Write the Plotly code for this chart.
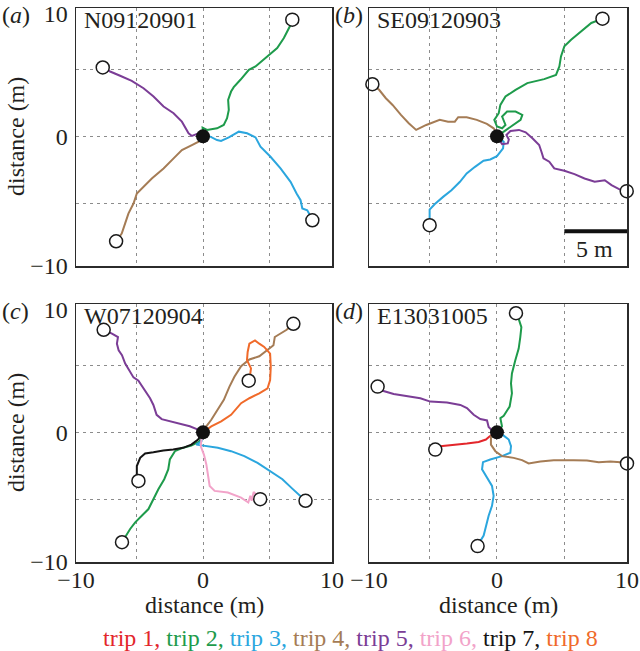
import plotly.graph_objects as go

# ---------------- data (metres) ----------------
TRIP_COLORS = {1: "#e3262b", 2: "#1e9b4b", 3: "#2ba6de", 4: "#a57c55",
               5: "#7b3d96", 6: "#f2a3c9", 7: "#141414", 8: "#f06a2a"}

PANEL_LETTERS = ["a", "b", "c", "d"]
PANEL_NAMES = ["N09120901", "SE09120903", "W07120904", "E13031005"]
TICK_TEXT = ["\u221210", "0", "10"]
GRID_VALS = [-5, 0, 5]
LEGEND_LABELS = ["trip 1", "trip 2", "trip 3", "trip 4", "trip 5", "trip 6", "trip 7", "trip 8"]

# panel (a)
A_T2_X = [0, -0.03, 0.3, 1.05, 1.55, 1.8, 1.93, 1.88, 2.1, 2.3, 2.8, 3.43, 3.93, 4.8, 5.55, 6.05, 6.5, 6.68]
A_T2_Y = [0, 0.65, 0.48, 0.6, 0.85, 1.35, 1.98, 2.73, 3.35, 3.68, 4.23, 4.98, 5.23, 5.98, 6.6, 7.35, 8.23, 8.73]
A_T3_X = [0, 0.55, 1.05, 1.35, 1.93, 2.68, 3.3, 3.93, 4.3, 5.05, 5.8, 6.55, 7.0, 7.3, 7.43, 7.8, 8.0, 8.18]
A_T3_Y = [0, -0.03, -0.28, -0.35, -0.08, 0.35, 0.23, -0.08, -0.78, -1.53, -2.4, -3.4, -4.28, -4.78, -5.4, -5.53, -5.9, -6.28]
A_T4_X = [0, -0.33, -0.83, -1.58, -2.2, -2.95, -3.83, -4.45, -4.95, -5.2, -5.58, -5.83, -6.08, -6.5]
A_T4_Y = [0, -0.4, -0.65, -1.03, -1.65, -2.4, -3.15, -3.78, -4.28, -5.03, -5.78, -6.53, -7.28, -7.85]
A_T5_X = [0, -0.33, -0.83, -1.08, -1.58, -2.2, -2.95, -3.7, -4.45, -5.33, -6.2, -6.95, -7.5]
A_T5_Y = [0, 0.23, 0.03, 0.23, 1.1, 1.73, 2.23, 2.98, 3.6, 4.15, 4.53, 4.85, 5.15]

# panel (b)
B_T2_X = [0, 0.5, 1.13, 1.75, 1.88, 1.38, 0.75, 0.38, 0.63, 0.38, 0, -0.2, 0.13, 0.25, 0.63, 1.38, 2.25, 3.5, 4.38, 4.63, 4.75, 5.0, 5.5, 6.25, 7.0, 7.83]
B_T2_Y = [0, 0.35, 0.73, 1.23, 1.6, 1.85, 1.85, 1.48, 0.85, 0.6, 0.73, 1.23, 1.73, 2.35, 2.98, 3.48, 3.98, 4.28, 4.6, 5.23, 5.98, 6.73, 7.23, 7.85, 8.48, 8.8]
B_T3_X = [0, 0.5, 0.45, 0, -0.5, -1.0, -1.63, -2.25, -2.75, -3.38, -4.0, -4.63, -5.0, -5.0]
B_T3_Y = [0, -0.4, -0.9, -1.48, -1.73, -1.83, -2.28, -2.78, -3.4, -4.03, -4.53, -5.08, -5.48, -6.65]
B_T4_X = [0, -0.05, -0.25, -0.75, -1.5, -2.25, -2.88, -3.13, -3.63, -4.25, -5.25, -6.0, -6.55, -7.13, -7.75, -8.25, -8.75, -9.25]
B_T4_Y = [0, 0.28, 0.6, 0.93, 1.23, 1.43, 1.43, 1.1, 1.1, 1.23, 0.85, 0.48, 0.98, 1.6, 2.35, 2.85, 3.48, 3.9]
B_T5_X = [0, 0.38, 0.8, 0.88, 0.7, 1.0, 1.63, 2.13, 2.63, 3.13, 3.3, 3.45, 3.88, 4.25, 5.0, 5.75, 6.5, 7.25, 8.0, 8.5, 9.13, 9.63]
B_T5_Y = [0, -0.58, -0.53, -0.23, 0.1, 0.4, 0.48, 0.3, -0.15, -0.65, -1.15, -1.65, -1.9, -2.4, -2.58, -2.83, -3.15, -3.4, -3.28, -3.65, -3.98, -4.1]

# panel (c)
C_T2_X = [0, -0.25, -0.87, -1.61, -2.1, -2.48, -2.6, -2.9, -3.34, -3.71, -4.08, -4.58, -5.07, -5.45, -6.06]
C_T2_Y = [0, -0.67, -0.99, -1.19, -1.41, -2.03, -2.77, -3.51, -4.26, -5.0, -5.74, -6.24, -6.73, -7.23, -8.22]
C_T3_X = [0, -0.12, -0.5, 0.25, 1.11, 2.1, 3.09, 4.08, 5.07, 5.94, 6.68, 7.43, 7.67]
C_T3_Y = [0, -0.67, -0.92, -1.04, -1.16, -1.41, -1.78, -2.28, -2.9, -3.51, -4.21, -4.88, -5.12]
C_T4_X = [0, 0.25, 0.62, 1.11, 1.56, 1.98, 2.35, 2.85, 3.47, 4.21, 4.83, 5.27, 5.37, 5.82, 6.26, 6.76]
C_T4_Y = [0, 0.45, 0.94, 1.68, 2.43, 3.42, 4.16, 4.95, 5.45, 5.69, 6.14, 6.51, 7.13, 7.43, 7.67, 8.12]
C_T5_X = [0, -0.37, -0.99, -1.73, -2.48, -3.09, -3.47, -3.71, -3.96, -4.28, -4.58, -4.83, -5.2, -5.52, -5.82, -6.06, -6.31, -6.44, -6.36, -6.81, -7.43]
C_T5_Y = [0, 0.2, 0.45, 0.64, 0.82, 0.99, 1.31, 2.05, 2.55, 3.04, 3.42, 3.86, 4.11, 4.65, 5.15, 5.77, 6.14, 6.63, 7.13, 7.38, 7.67]
C_T6_X = [0, -0.12, -0.17, 0.07, 0.25, 0.37, 0.5, 0.87, 1.86, 2.85, 3.39, 3.54, 3.64, 3.79, 4.28]
C_T6_Y = [0, -0.54, -1.04, -1.66, -2.4, -3.27, -4.01, -4.38, -4.5, -4.88, -5.25, -4.75, -5.12, -4.46, -5.0]
C_T7_X = [0, -0.37, -0.87, -1.49, -2.23, -2.97, -3.71, -4.33, -4.7, -4.95, -4.95, -4.83]
C_T7_Y = [0, -0.54, -0.92, -1.16, -1.29, -1.36, -1.49, -1.58, -1.91, -2.52, -3.14, -3.64]
C_T8_X = [0, 0.62, 1.36, 2.1, 2.85, 3.47, 4.21, 4.83, 5.02, 5.07, 5.02, 4.58, 4.21, 3.89, 3.47, 3.34, 3.29, 3.59, 3.54, 3.42]
C_T8_Y = [0, 0.45, 0.82, 1.31, 2.18, 2.55, 2.92, 3.29, 3.91, 4.9, 5.89, 6.39, 6.63, 6.88, 6.63, 6.01, 5.4, 4.78, 4.41, 3.86]

# panel (d)
D_T1_X = [0, -0.54, -0.82, -1.36, -2.23, -3.22, -4.21, -4.58]
D_T1_Y = [0, -0.3, -0.54, -0.72, -0.84, -0.92, -1.04, -1.29]
D_T2_X = [0, 0.37, 0.25, 0.5, 0.94, 1.11, 1.04, 1.11, 1.36, 1.61, 1.73, 1.81, 1.61, 1.41]
D_T2_Y = [0, 0.45, 1.06, 1.24, 1.93, 2.92, 3.66, 4.41, 5.4, 6.26, 7.13, 7.87, 8.49, 8.91]
D_T3_X = [0, 0.5, 0.87, 1.04, 0.99, 0.37, -0.5, -1.04, -1.11, -0.74, -0.37, -0.25, -0.37, -0.62, -0.82, -0.99, -1.29, -1.44]
D_T3_Y = [0, -0.25, -0.54, -1.04, -1.53, -1.78, -2.03, -2.23, -2.77, -3.39, -4.01, -4.75, -5.5, -6.24, -6.98, -7.72, -8.22, -8.51]
D_T4_X = [0, -0.45, -0.45, -0.12, 0.37, 1.24, 1.86, 2.35, 3.22, 4.21, 5.69, 6.68, 7.55, 8.42, 9.16, 9.65]
D_T4_Y = [0, -0.3, -0.92, -1.41, -1.78, -1.91, -2.08, -2.33, -2.18, -2.08, -2.08, -2.1, -2.23, -2.18, -2.23, -2.33]
D_T5_X = [0, -0.3, -0.62, -0.74, -1.24, -1.73, -2.23, -2.72, -3.71, -4.95, -5.69, -6.68, -7.67, -8.42, -8.86]
D_T5_Y = [0, 0.07, 0.4, 0.89, 0.99, 1.31, 1.81, 2.05, 2.23, 2.3, 2.55, 2.72, 2.87, 3.09, 3.42]

PANEL_TRIPS = [
    [(2, A_T2_X, A_T2_Y), (3, A_T3_X, A_T3_Y), (4, A_T4_X, A_T4_Y), (5, A_T5_X, A_T5_Y)],
    [(2, B_T2_X, B_T2_Y), (3, B_T3_X, B_T3_Y), (4, B_T4_X, B_T4_Y), (5, B_T5_X, B_T5_Y)],
    [(2, C_T2_X, C_T2_Y), (3, C_T3_X, C_T3_Y), (4, C_T4_X, C_T4_Y), (5, C_T5_X, C_T5_Y),
     (6, C_T6_X, C_T6_Y), (7, C_T7_X, C_T7_Y), (8, C_T8_X, C_T8_Y)],
    [(1, D_T1_X, D_T1_Y), (2, D_T2_X, D_T2_Y), (3, D_T3_X, D_T3_Y), (4, D_T4_X, D_T4_Y), (5, D_T5_X, D_T5_Y)],
]

NEST_X = [0]
NEST_Y = [0]
SCALE_X = [5, 10]
SCALE_Y = [-7.1, -7.1]
SCALE_LABEL = "5 m"

# ---------------- layout geometry ----------------
W, H = 640, 651
X_RANGE = [-9.5, 9.65]
Y_RANGE = [-9.7, 9.6]
COL_PX = [(76, 332), (369, 627)]
ROW_PX = [(8, 266), (304, 562)]
FONT = "Liberation Serif, Times New Roman, serif"
TXT = "#231f20"

fig = go.Figure()

for i in range(4):
    r, c = divmod(i, 2)
    sfx = "" if i == 0 else str(i + 1)
    xa, ya = "x" + sfx, "y" + sfx
    for trip, xs, ys in PANEL_TRIPS[i]:
        fig.add_trace(go.Scatter(x=xs, y=ys, mode="lines", xaxis=xa, yaxis=ya,
                                 line=dict(color=TRIP_COLORS[trip], width=2),
                                 showlegend=False, hoverinfo="skip"))
    fig.add_trace(go.Scatter(x=[t[1][-1] for t in PANEL_TRIPS[i]],
                             y=[t[2][-1] for t in PANEL_TRIPS[i]],
                             mode="markers", xaxis=xa, yaxis=ya, cliponaxis=False,
                             marker=dict(symbol="circle", size=13, color="white",
                                         line=dict(color="#1a1a1a", width=1.5)),
                             showlegend=False, hoverinfo="skip"))
    fig.add_trace(go.Scatter(x=NEST_X, y=NEST_Y, mode="markers", xaxis=xa, yaxis=ya,
                             marker=dict(size=14, color="#111111"),
                             showlegend=False, hoverinfo="skip"))
    if i == 1:
        fig.add_trace(go.Scatter(x=SCALE_X, y=SCALE_Y, mode="lines", xaxis=xa, yaxis=ya,
                                 line=dict(color="#111111", width=4),
                                 showlegend=False, hoverinfo="skip"))
        fig.add_annotation(x=7.25, y=-8.45, xref=xa, yref=ya, text=SCALE_LABEL, showarrow=False,
                           xanchor="center", yanchor="middle",
                           font=dict(family=FONT, size=24, color=TXT))

    x0, x1 = COL_PX[c]
    y0, y1 = ROW_PX[r]
    axis_common = dict(showline=True, mirror=True, linecolor="#2b2b2b", linewidth=1.5,
                       zeroline=False, showgrid=False, ticks="", tickmode="array",
                       ticktext=TICK_TEXT, fixedrange=True, ticklabeloverflow="allow",
                       tickfont=dict(family=FONT, size=24, color=TXT),
                       minor=dict(tickmode="array", tickvals=GRID_VALS, showgrid=True,
                                  gridcolor="#8c8c8c", griddash="3px,4px", gridwidth=1,
                                  ticks=""))
    fig.update_layout(**{
        ("xaxis" + sfx): dict(axis_common, domain=[x0 / W, x1 / W], anchor=ya, range=X_RANGE,
                               tickvals=[X_RANGE[0] + 0.001, 0, X_RANGE[1] - 0.001],
                               showticklabels=(r == 1), ticklabelstandoff=-4),
        ("yaxis" + sfx): dict(axis_common, domain=[1 - y1 / H, 1 - y0 / H], anchor=xa, range=Y_RANGE,
                               tickvals=[Y_RANGE[0] + 0.001, 0, Y_RANGE[1] - 0.45],
                               showticklabels=(c == 0), ticklabelstandoff=2),
    })
    # panel letter
    fig.add_annotation(x=(0 if c == 0 else 333) / W, y=1 - (y0 + 7) / H, xref="paper", yref="paper",
                       xanchor="left", yanchor="middle", showarrow=False,
                       text="(<i>%s</i>)" % PANEL_LETTERS[i],
                       font=dict(family=FONT, size=24, color=TXT))
    # site name
    fig.add_annotation(x=0.025, y=0.955, xref=xa + " domain", yref=ya + " domain",
                       xanchor="left", yanchor="middle", showarrow=False,
                       text=PANEL_NAMES[i], font=dict(family=FONT, size=24, color=TXT))
    # axis titles
    if c == 0:
        fig.add_annotation(x=16 / W, y=1 - (y0 + y1) / 2 / H, xref="paper", yref="paper",
                           xanchor="center", yanchor="middle",
                           textangle=-90, showarrow=False, text="distance (m)",
                           font=dict(family=FONT, size=24, color=TXT))
    if r == 1:
        fig.add_annotation(x=(x0 + x1) / 2 / W, y=1 - 605 / H, xref="paper", yref="paper",
                           xanchor="center", yanchor="middle",
                           showarrow=False, text="distance (m)",
                           font=dict(family=FONT, size=24, color=TXT))

legend_parts = []
for k, lab in enumerate(LEGEND_LABELS, start=1):
    sep = "," if k < len(LEGEND_LABELS) else ""
    legend_parts.append('<span style="color:%s">%s%s</span>' % (TRIP_COLORS[k], lab, sep))
fig.add_annotation(x=350 / W, y=1 - 638 / H, xref="paper", yref="paper", showarrow=False,
                   xanchor="center", yanchor="middle",
                   text=" ".join(legend_parts), font=dict(family=FONT, size=24, color=TXT))

fig.update_layout(width=W, height=H, margin=dict(l=0, r=0, t=0, b=0, autoexpand=False),
                  paper_bgcolor="white", plot_bgcolor="white", showlegend=False)

fig.write_html("out.html", config={"displayModeBar": False, "staticPlot": True},
               post_script="document.body.style.margin='0';document.body.style.overflow='hidden';")
